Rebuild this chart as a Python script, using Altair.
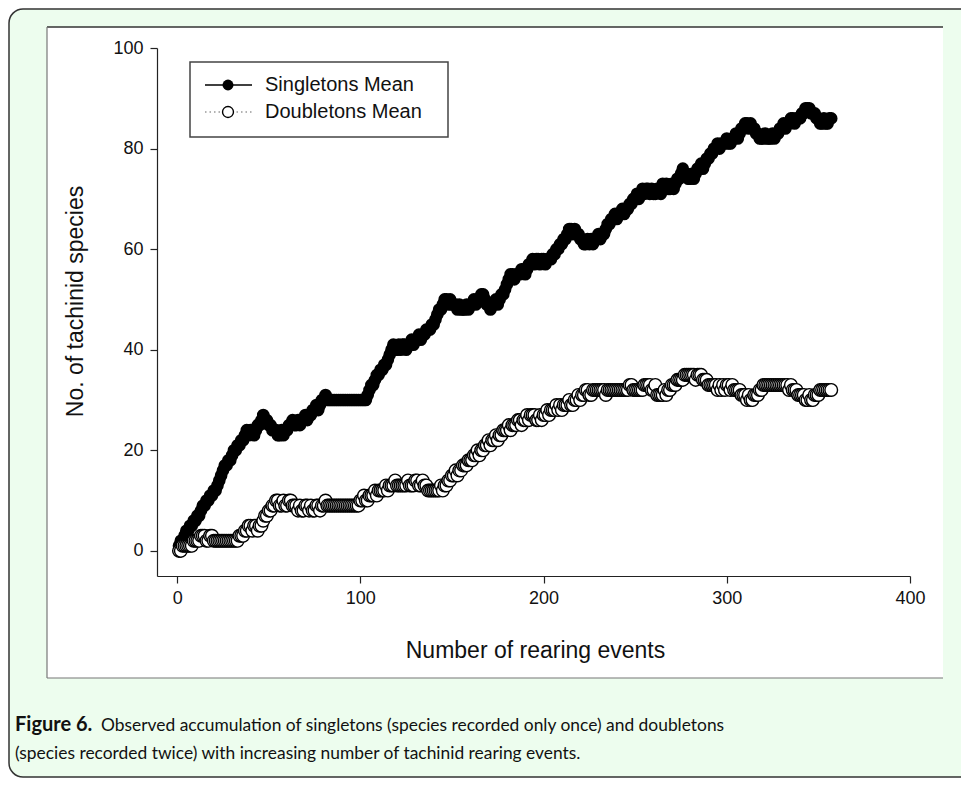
import altair as alt
import pandas as pd

# ---- data (one value per rearing event) ----
singletons = [
    1, 2, 2, 3, 4, 4, 5,
    5, 6, 6, 7, 7, 8,
    9, 9, 10,
    10, 11, 11, 12, 12,
    13, 14, 15, 16, 17,
    17, 18, 18, 19, 20, 20,
    21, 21, 22, 22, 23,
    24, 23, 24, 24, 23, 24,
    25, 25, 26, 27,
    26, 26, 25, 25, 24, 24,
    24, 23, 23, 24, 23,
    24, 24, 25, 25,
    26, 25, 25, 26, 25,
    26, 26, 27, 26, 27, 27,
    28, 28, 29, 28, 29,
    30, 30, 31, 30, 30, 30,
    30, 30, 30, 30, 30, 30, 30, 30, 30, 30, 30, 30, 30, 30, 30, 30, 30, 30, 30,
    31, 32, 33, 33, 34, 35, 35,
    36, 36, 37, 37, 38, 39, 40,
    41, 40, 40, 41, 40,
    41, 41, 40, 41, 41,
    42, 41, 42, 42, 43, 42,
    43, 43, 44, 44, 44,
    45, 45, 46, 47, 48, 48, 49, 50,
    50, 49, 50, 49, 49, 49,
    48, 49, 48, 48, 48,
    49, 48, 49, 49, 50, 49,
    50, 50, 51, 51,
    50, 49, 49, 48,
    49, 49, 50, 49, 50,
    51, 51, 52, 53, 54, 55, 55,
    54, 55, 55, 55,
    56, 56, 55, 56, 57, 57,
    58, 57, 58, 58, 57,
    58, 58, 57, 58, 58, 58,
    59, 59, 60, 60, 61, 61, 62, 62,
    63, 64, 64,
    63, 64, 63, 63,
    62, 62, 61, 61,
    62, 61, 62, 61, 62,
    62, 63, 62, 63, 63, 64,
    65, 65, 66,
    66, 67, 66, 67, 67,
    68, 67, 68, 68, 69,
    69, 70, 70, 71, 70, 71,
    72, 71, 72, 72,
    71, 72, 71, 71,
    72, 72, 71, 73,
    72, 73, 72, 72,
    73, 72, 73,
    74, 74, 75, 76,
    75, 75, 74, 74,
    75, 74, 75, 76, 76,
    77, 76, 77, 78, 78,
    79, 79, 80, 80,
    81, 80, 81,
    81, 81, 82, 81, 81,
    82, 82, 83, 82, 83,
    84, 84, 85,
    85, 84, 85, 84, 84,
    83, 83, 82, 82,
    82, 83, 82, 82, 82, 83, 82,
    83, 83, 84,
    84, 85, 84, 85, 85, 86,
    86, 85, 86, 86, 86,
    87, 87, 88, 88,
    88, 87, 87, 87,
    86, 86, 85, 85,
    86, 85, 85, 86, 86,
]

doubletons = [
    0, 0, 1, 1, 1, 1, 1,
    1, 2, 2, 2, 2, 3, 3,
    3, 2, 2, 3, 3, 2, 2,
    2, 2, 2, 2, 2, 2, 2, 2, 2, 2, 2, 2,
    3, 3, 3, 4, 4, 5, 5, 4,
    5, 5, 4, 5, 5, 6, 7, 7,
    8, 8, 9, 9, 10, 10,
    9, 9, 10, 9, 9, 10, 10, 9,
    9, 9, 8, 9, 8, 8,
    9, 9, 8, 9, 8, 8,
    9, 9, 8, 9, 9, 10,
    9, 9, 9, 9, 9, 9, 9, 9, 9, 9, 9, 9, 9, 9, 9, 9, 9, 9,
    10,
    10, 11, 10, 10, 11, 11, 11, 12, 11, 12, 12,
    12, 12, 13, 12, 13, 13, 13, 14, 13,
    13, 13, 13, 13, 13, 14, 13, 13, 13, 14, 14,
    13, 13, 14, 13, 13, 12, 12, 12, 12,
    12, 12, 12, 13, 12, 13,
    13, 14, 14, 15, 15,
    16, 15, 16, 16, 17, 17, 17, 18, 18,
    18, 19, 19, 20, 19, 20, 20, 21, 21,
    22, 21, 22, 22, 23, 22, 23, 23, 24,
    24, 24, 25, 24, 25, 25, 25, 26, 26,
    25, 26, 26, 27, 26, 27, 27, 27, 26,
    26, 27, 26, 27, 27, 28, 27, 28, 28,
    28, 29, 28, 29, 28, 29, 29, 29, 30,
    29, 29, 30, 30, 31, 30, 31, 31, 32,
    32, 31, 31, 32, 32, 32, 32, 32, 32,
    32, 31, 32, 32, 32, 32, 32, 32, 32, 32,
    32, 32, 32, 32, 33, 33, 32, 32, 32, 32, 32,
    32, 33, 33, 33, 33,
    32, 32, 33, 31, 31, 31,
    31, 32, 31, 32, 32,
    33, 33, 33, 34, 34,
    34, 34, 35, 35, 35, 35,
    35, 35, 34, 35, 35, 35, 34,
    34, 34, 33, 33, 33,
    33, 33, 32, 33, 32, 33, 32, 33,
    33, 32, 33, 32, 32, 32, 32,
    31, 31, 31, 30, 31, 30, 30,
    31, 31, 31, 32, 32, 33, 33,
    33, 33, 33, 33, 33, 33, 33, 33, 33, 33, 33,
    33, 32, 33, 32,
    32, 32, 31, 31, 31, 31,
    30, 30, 31, 30, 30,
    31, 31, 31, 32, 32, 32,
    32, 32, 32, 32,
]

x_ticks = [0, 100, 200, 300, 400]
y_ticks = [0, 20, 40, 60, 80, 100]
legend_labels = ["Singletons Mean", "Doubletons Mean"]
x_title = "Number of rearing events"
y_title = "No. of tachinid species"
caption_bold = "Figure 6."
caption_line1 = "Observed accumulation of singletons (species recorded only once) and doubletons"
caption_line2 = "(species recorded twice) with increasing number of tachinid rearing events."

df_s = pd.DataFrame({"event": list(range(1, len(singletons) + 1)), "species": singletons})
df_d = pd.DataFrame({"event": list(range(1, len(doubletons) + 1)), "species": doubletons})

W, H = 753, 528
AX = "#222222"
FONT = "Liberation Sans"

x_enc = alt.X(
    "event:Q",
    scale=alt.Scale(domain=[-11, 400], nice=False, zero=False),
    axis=alt.Axis(
        values=x_ticks, title=x_title, grid=False, labelFlush=False, labelOverlap=False,
        domainColor=AX, domainWidth=1.2, tickColor=AX, tickWidth=1.2, tickSize=7,
        labelFont=FONT, labelFontSize=18, labelColor="#111", labelPadding=6,
        titleFont=FONT, titleFontSize=23, titleFontWeight="normal", titleColor="#111",
        titleX=378, titleY=74, titleBaseline="middle", titleAlign="center", zindex=1,
    ),
)
y_enc = alt.Y(
    "species:Q",
    scale=alt.Scale(domain=[-5, 100], nice=False, zero=False),
    axis=alt.Axis(
        values=y_ticks, title=y_title, grid=False, labelOverlap=False, labelFlush=False,
        domainColor=AX, domainWidth=1.2, tickColor=AX, tickWidth=1.2, tickSize=7,
        labelFont=FONT, labelFontSize=18, labelColor="#111", labelPadding=7,
        titleFont=FONT, titleFontSize=23, titleFontWeight="normal", titleColor="#111",
        titleX=-82, titleY=253, titleAngle=270, titleBaseline="middle", titleAlign="center",
        zindex=1,
    ),
)

one = pd.DataFrame({"k": [0]})
base = alt.Chart(one)

# figure frame (green rounded box) and white image panel
frame = base.mark_rect(
    fill="#EDFDEE", stroke="#333333", strokeWidth=1.5, cornerRadius=14
).encode(x=alt.value(-148), x2=alt.value(830), y=alt.value(-39), y2=alt.value(729))
panel = base.mark_rect(fill="white").encode(
    x=alt.value(-110), x2=alt.value(786), y=alt.value(-21), y2=alt.value(630)
)
panel_top = base.mark_rule(color="#333333", strokeWidth=1.5).encode(
    x=alt.value(-110), x2=alt.value(786), y=alt.value(-21)
)
panel_left = base.mark_rule(color="#777777", strokeWidth=1.2).encode(
    x=alt.value(-110), y=alt.value(-21), y2=alt.value(630)
)
panel_bottom = base.mark_rule(color="#777777", strokeWidth=1.2).encode(
    x=alt.value(-110), x2=alt.value(786), y=alt.value(630)
)

# data
MS = 160
s_line = alt.Chart(df_s).mark_line(color="black", strokeWidth=1).encode(x=x_enc, y=y_enc)
s_pts = alt.Chart(df_s).mark_point(
    shape="circle", filled=True, color="black", size=MS, opacity=1
).encode(x=x_enc, y=y_enc)
d_line = alt.Chart(df_d).mark_line(color="#555", strokeWidth=1, strokeDash=[1, 3]).encode(x=x_enc, y=y_enc)
d_pts = alt.Chart(df_d).mark_point(
    shape="circle", filled=True, fill="white", stroke="black", strokeWidth=1.4, size=MS, opacity=1
).encode(x=x_enc, y=y_enc)

# legend
leg_box = base.mark_rect(fill="white", stroke="#444444", strokeWidth=1.5).encode(
    x=alt.value(33), x2=alt.value(291), y=alt.value(14), y2=alt.value(89)
)
leg_l1 = base.mark_rule(color="black", strokeWidth=1.5).encode(
    x=alt.value(48), x2=alt.value(95), y=alt.value(37)
)
leg_l2 = base.mark_rule(color="#666", strokeWidth=1.2, strokeDash=[1.5, 3]).encode(
    x=alt.value(48), x2=alt.value(95), y=alt.value(64)
)
leg_p1 = base.mark_point(shape="circle", filled=True, color="black", size=120, opacity=1).encode(
    x=alt.value(71), y=alt.value(37)
)
leg_p2 = base.mark_point(
    shape="circle", filled=True, fill="white", stroke="black", strokeWidth=1.4, size=120, opacity=1
).encode(x=alt.value(71), y=alt.value(64))
leg_t1 = base.mark_text(
    text=legend_labels[0], align="left", baseline="middle", font=FONT, fontSize=20, color="#111"
).encode(x=alt.value(108), y=alt.value(37))
leg_t2 = base.mark_text(
    text=legend_labels[1], align="left", baseline="middle", font=FONT, fontSize=20, color="#111"
).encode(x=alt.value(108), y=alt.value(64))

# caption
cap_b = base.mark_text(
    text=caption_bold, align="left", baseline="alphabetic", font="Lato", fontSize=20,
    fontWeight="bold", color="#111"
).encode(x=alt.value(-142), y=alt.value(683))
cap_1 = base.mark_text(
    text=caption_line1, align="left", baseline="alphabetic", font="Lato", fontSize=17.4, color="#111"
).encode(x=alt.value(-56), y=alt.value(683))
cap_2 = base.mark_text(
    text=caption_line2, align="left", baseline="alphabetic", font="Lato", fontSize=17.4, color="#111"
).encode(x=alt.value(-142), y=alt.value(711))

chart = alt.layer(
    frame, panel, panel_top, panel_left, panel_bottom,
    s_line, s_pts, d_line, d_pts,
    leg_box, leg_l1, leg_l2, leg_p1, leg_p2, leg_t1, leg_t2,
    cap_b, cap_1, cap_2,
).properties(
    width=W, height=H,
    autosize=alt.AutoSizeParams(type="none"),
    padding={"left": 149, "top": 40, "right": 51, "bottom": 202},
    background="white",
).configure_view(stroke=None)

chart.save("out.html", embed_options={"renderer": "svg", "actions": False})
